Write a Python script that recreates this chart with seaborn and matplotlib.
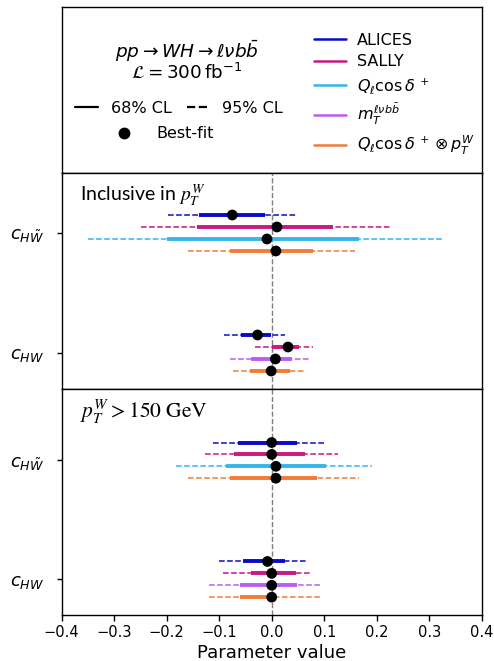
import matplotlib
matplotlib.use("Agg")
import matplotlib.pyplot as plt
from matplotlib.lines import Line2D
import numpy as np
import pandas as pd
import seaborn as sns

# ---- fit results: best-fit values with 68% and 95% CL intervals ----
panels = ["inclusive"] * 8 + ["high_pt"] * 8
params = (["cHWt"] * 4 + ["cHW"] * 4) * 2
methods = (["ALICES", "SALLY", "Qcos", "Combined"]
           + ["ALICES", "SALLY", "mT", "Combined"]) * 2
best = [-0.075, 0.010, -0.009, 0.008,
        -0.027, 0.031, 0.007, -0.001,
        0.000, 0.000, 0.008, 0.008,
        -0.008, 0.000, 0.000, 0.000]
lo68 = [-0.138, -0.143, -0.200, -0.079,
        -0.058, 0.000, -0.039, -0.041,
        -0.064, -0.072, -0.087, -0.079,
        -0.054, -0.040, -0.060, -0.060]
hi68 = [-0.013, 0.117, 0.166, 0.078,
        -0.002, 0.052, 0.039, 0.034,
        0.048, 0.063, 0.103, 0.087,
        0.025, 0.046, 0.048, 0.002]
lo95 = [-0.197, -0.249, -0.350, -0.159,
        -0.090, -0.032, -0.079, -0.073,
        -0.111, -0.127, -0.183, -0.159,
        -0.100, -0.093, -0.119, -0.119]
hi95 = [0.048, 0.227, 0.326, 0.159,
        0.025, 0.078, 0.073, 0.065,
        0.100, 0.126, 0.190, 0.166,
        0.067, 0.073, 0.091, 0.091]

method_labels = {
    "ALICES": "ALICES",
    "SALLY": "SALLY",
    "Qcos": r"$Q_{\ell}\cos\delta^{\,+}$",
    "mT": r"$m_T^{\ell\nu b\bar{b}}$",
    "Combined": r"$Q_{\ell}\cos\delta^{\,+}\otimes p_T^W$",
}
method_colors = {
    "ALICES": "#0a0ac8",
    "SALLY": "#c8197f",
    "Qcos": "#35b5e8",
    "mT": "#bd5cf2",
    "Combined": "#f07c3a",
}
param_labels = [r"$c_{H\tilde{W}}$", r"$c_{HW}$"]
param_base = {"cHWt": 1.0, "cHW": 0.0}
x_ticks = [-0.4, -0.3, -0.2, -0.1, 0.0, 0.1, 0.2, 0.3, 0.4]

df = pd.DataFrame({"panel": panels, "param": params, "method": methods,
                   "best": best, "lo68": lo68, "hi68": hi68,
                   "lo95": lo95, "hi95": hi95})
row_offsets = [0.15, 0.05, -0.05, -0.15]
df["row"] = df.groupby(["panel", "param"]).cumcount()
df["y"] = df["param"].map(param_base) + df["row"].map(lambda r: row_offsets[r])
df["color"] = df["method"].map(method_colors)

sns.set_style("ticks")
plt.rcParams["font.family"] = ["DejaVu Sans"]
plt.rcParams["mathtext.fontset"] = "dejavusans"
plt.rcParams["axes.unicode_minus"] = True
for key in ("text.color", "axes.labelcolor", "xtick.color", "ytick.color",
            "axes.edgecolor"):
    plt.rcParams[key] = "black"

fig = plt.figure(figsize=(4.94, 6.61), dpi=100)
left, width = 0.1245, 0.851
ax_top = fig.add_axes([left, 0.7383, width, 0.2511])
ax_mid = fig.add_axes([left, 0.4115, width, 0.3268], sharex=ax_top)
ax_bot = fig.add_axes([left, 0.0696, width, 0.3419], sharex=ax_top)

for ax in (ax_top, ax_mid, ax_bot):
    for s in ax.spines.values():
        s.set_visible(True)
        s.set_color("black")
        s.set_linewidth(1.0)

# ---- interval panels ----
def draw_panel(ax, sub, ylim):
    ax.axvline(0, color="#7f7f7f", ls="--", lw=1.0, zorder=1)
    ax.hlines(sub["y"], sub["lo95"], sub["hi95"], colors=sub["color"],
              linestyles="--", lw=1.1, zorder=2)
    ax.hlines(sub["y"], sub["lo68"], sub["hi68"], colors=sub["color"],
              linestyles="-", lw=2.8, zorder=3)
    sns.scatterplot(data=sub, x="best", y="y", color="black", s=60,
                    edgecolor="none", legend=False, ax=ax, zorder=5)
    ax.set_ylim(*ylim)
    ax.set_yticks([1.0, 0.0])
    ax.set_yticklabels(param_labels, fontsize=13)
    ax.tick_params(axis="y", length=3.5, width=1.0, pad=9)
    ax.set_xlabel("")
    ax.set_ylabel("")

draw_panel(ax_mid, df[df["panel"] == "inclusive"], (-0.3, 1.5))
draw_panel(ax_bot, df[df["panel"] == "high_pt"], (-0.3, 1.6))

ax_mid.tick_params(axis="x", length=0, labelbottom=False)
ax_bot.set_xlim(-0.4, 0.4)
ax_bot.set_xticks(x_ticks)
ax_bot.set_xticklabels([f"{v:.1f}".replace("-", "\u2212") for v in x_ticks])
ax_bot.tick_params(axis="x", length=4, width=1.0, labelsize=10.5, pad=3)
ax_bot.set_xlabel("Parameter value", fontsize=13, labelpad=3)

ax_mid.text(0.044, 0.898, r"Inclusive in $p_T^W$", transform=ax_mid.transAxes,
            ha="left", va="center", fontsize=14, family="Lato",
            math_fontfamily="stix")
ax_bot.text(0.044, 0.90, r"$p_T^W > 150\ \mathrm{GeV}$",
            transform=ax_bot.transAxes, ha="left", va="center",
            fontsize=15.5, math_fontfamily="stix")

# ---- legend panel ----
ax_top.set_yticks([])
ax_top.tick_params(axis="x", length=2.5, labelbottom=False, direction="out")

ax_top.text(0.298, 0.735, r"$pp \to WH \to \ell\nu b\bar{b}$",
            transform=ax_top.transAxes, ha="center", va="center", fontsize=13.3)
ax_top.text(0.298, 0.61, r"$\mathcal{L} = 300\,\mathrm{fb}^{-1}$",
            transform=ax_top.transAxes, ha="center", va="center", fontsize=13.2)

cl_handles = [Line2D([], [], color="black", lw=1.6, ls="-"),
              Line2D([], [], color="black", lw=1.6, ls="--")]
leg_cl = ax_top.legend(cl_handles, ["68% CL", "95% CL"], ncol=2, loc="center",
                       bbox_to_anchor=(0.28, 0.39), frameon=False,
                       fontsize=11.5, handlelength=1.4, handletextpad=0.8,
                       columnspacing=1.0)
ax_top.add_artist(leg_cl)

bf_handles = [Line2D([], [], color="black", marker="o", ls="none", ms=7.5)]
leg_bf = ax_top.legend(bf_handles, ["Best-fit"], loc="center",
                       bbox_to_anchor=(0.236, 0.235), frameon=False,
                       fontsize=11.5, handlelength=2.0, handletextpad=1.0)
ax_top.add_artist(leg_bf)

m_order = ["ALICES", "SALLY", "Qcos", "mT", "Combined"]
m_handles = [Line2D([], [], color=method_colors[m], lw=1.8) for m in m_order]
ax_top.legend(m_handles, [method_labels[m] for m in m_order], loc="center",
              bbox_to_anchor=(0.792, 0.47), frameon=False, fontsize=11.5,
              handlelength=2.0, handletextpad=0.7, labelspacing=0.4)

fig.savefig("out.png", dpi=100)
